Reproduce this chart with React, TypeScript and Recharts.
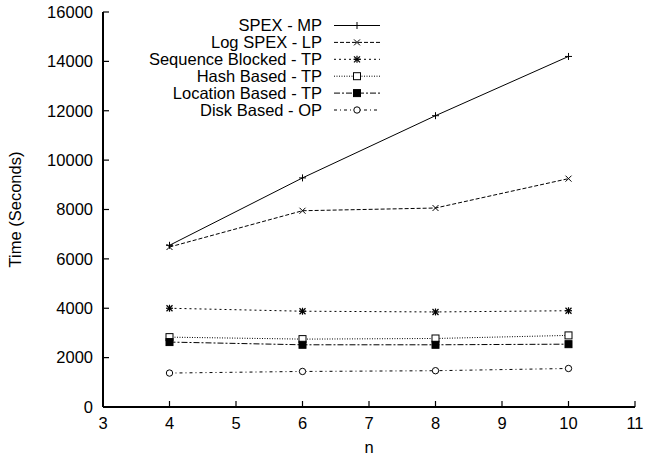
import React from "react";
import { LineChart, Line, XAxis, YAxis } from "recharts";

// values
const nValues = [4, 6, 8, 10];
const spexMp = [6550, 9280, 11800, 14200];
const logSpexLp = [6480, 7950, 8060, 9250];
const seqBlockedTp = [4000, 3880, 3850, 3900];
const hashTp = [2830, 2750, 2775, 2900];
const locationTp = [2630, 2520, 2520, 2545];
const diskOp = [1375, 1440, 1470, 1560];

const xTicks = [3, 4, 5, 6, 7, 8, 9, 10, 11];
const yTicks = [0, 2000, 4000, 6000, 8000, 10000, 12000, 14000, 16000];

const seriesList = [
  { key: "spexMp", name: "SPEX - MP", dash: undefined, marker: "plus" },
  { key: "logSpexLp", name: "Log SPEX - LP", dash: "4 2", marker: "cross" },
  { key: "seqBlockedTp", name: "Sequence Blocked - TP", dash: "2 3", marker: "star" },
  { key: "hashTp", name: "Hash Based - TP", dash: "1 1.5", marker: "square" },
  { key: "locationTp", name: "Location Based - TP", dash: "6 2 2 2", marker: "filled" },
  { key: "diskOp", name: "Disk Based - OP", dash: "3 3 1 3", marker: "circle" },
];

const data = nValues.map((n, i) => ({
  n,
  spexMp: spexMp[i],
  logSpexLp: logSpexLp[i],
  seqBlockedTp: seqBlockedTp[i],
  hashTp: hashTp[i],
  locationTp: locationTp[i],
  diskOp: diskOp[i],
}));

const FONT = "'Liberation Sans', Arial, Helvetica, sans-serif";
const tickFont = { fontSize: 16.5, fill: "#000", fontFamily: FONT };
const axisStyle = { stroke: "#000", strokeWidth: 2 };
const tickLineStyle = { stroke: "#000", strokeWidth: 1.2 };

const Marker = ({ shape, cx, cy }: any) => {
  const s = 3.5;
  if (shape === "plus")
    return (
      <g stroke="#000" strokeWidth={1}>
        <line x1={cx - s} y1={cy} x2={cx + s} y2={cy} />
        <line x1={cx} y1={cy - s} x2={cx} y2={cy + s} />
      </g>
    );
  if (shape === "cross")
    return (
      <g stroke="#000" strokeWidth={1}>
        <line x1={cx - 3} y1={cy - 3} x2={cx + 3} y2={cy + 3} />
        <line x1={cx - 3} y1={cy + 3} x2={cx + 3} y2={cy - 3} />
      </g>
    );
  if (shape === "star")
    return (
      <g stroke="#000" strokeWidth={1.2}>
        <line x1={cx - s} y1={cy} x2={cx + s} y2={cy} />
        <line x1={cx} y1={cy - s} x2={cx} y2={cy + s} />
        <line x1={cx - 3} y1={cy - 3} x2={cx + 3} y2={cy + 3} />
        <line x1={cx - 3} y1={cy + 3} x2={cx + 3} y2={cy - 3} />
      </g>
    );
  if (shape === "square")
    return <rect x={cx - 3.5} y={cy - 3.5} width={7} height={7} fill="#fff" stroke="#000" strokeWidth={1} />;
  if (shape === "filled")
    return <rect x={cx - 3.5} y={cy - 3.5} width={7} height={7} fill="#000" stroke="#000" strokeWidth={1} />;
  return <circle cx={cx} cy={cy} r={3.2} fill="#fff" stroke="#000" strokeWidth={1} />;
};

const LegendBox = () => (
  <svg width={645} height={130} style={{ position: "absolute", left: 0, top: 0, pointerEvents: "none" }}>
    {seriesList.map((s, i) => {
      const y = 25.5 + i * 16.9;
      return (
        <g key={s.key}>
          <text x={322} y={y} dy="0.36em" textAnchor="end" fontSize={16.5} fill="#000" fontFamily={FONT}>
            {s.name}
          </text>
          <line x1={334} y1={y} x2={380} y2={y} stroke="#000" strokeWidth={1} strokeDasharray={s.dash} />
          <Marker shape={s.marker} cx={357} cy={y} />
        </g>
      );
    })}
  </svg>
);

const App = () => {
  return (
    <div style={{ position: "absolute", left: 0, top: 0, width: 645, height: 459, background: "#fff" }}>
      <LineChart
        width={645}
        height={459}
        data={data}
        margin={{ top: 12, right: 10, bottom: 0, left: 43 }}
        style={{ fontFamily: FONT }}
      >
        <XAxis
          dataKey="n"
          type="number"
          domain={[3, 11]}
          ticks={xTicks}
          height={52}
          tickSize={-6}
          tickMargin={16}
          tick={tickFont}
          tickLine={tickLineStyle}
          axisLine={axisStyle}
          label={{ value: "n", position: "insideBottom", offset: 6, fontSize: 16.5, fill: "#000" }}
        />
        {/* mirrored inward ticks on top and right, gnuplot style */}
        <XAxis
          xAxisId="top"
          dataKey="n"
          orientation="top"
          type="number"
          domain={[3, 11]}
          ticks={xTicks}
          height={0}
          tickSize={-6}
          tick={false}
          tickLine={tickLineStyle}
          axisLine={axisStyle}
        />
        <YAxis
          type="number"
          domain={[0, 16000]}
          ticks={yTicks}
          width={60}
          tickSize={-6}
          tickMargin={16}
          tick={tickFont}
          tickLine={tickLineStyle}
          axisLine={axisStyle}
          label={(props: any) => {
            const vb = props.viewBox || { y: 12, height: 395 };
            const cy = vb.y + vb.height / 2;
            return (
              <text
                x={15}
                y={cy}
                transform={`rotate(-90 15 ${cy})`}
                textAnchor="middle"
                dy="0.36em"
                fontSize={16.5}
                fill="#000"
                fontFamily={FONT}
              >
                Time (Seconds)
              </text>
            );
          }}
        />
        <YAxis
          yAxisId="right"
          orientation="right"
          type="number"
          domain={[0, 16000]}
          ticks={yTicks}
          width={0}
          tickSize={-6}
          tick={false}
          tickLine={tickLineStyle}
          axisLine={axisStyle}
        />
        <Line
          xAxisId="top"
          yAxisId="right"
          dataKey="spexMp"
          stroke="none"
          dot={false}
          activeDot={false}
          legendType="none"
          isAnimationActive={false}
        />
        {seriesList.map((s) => (
          <Line
            key={s.key}
            dataKey={s.key}
            name={s.name}
            type="linear"
            stroke="#000"
            strokeWidth={1}
            strokeDasharray={s.dash}
            isAnimationActive={false}
            dot={(p: any) => <Marker key={`${s.key}-${p.index}`} shape={s.marker} cx={p.cx} cy={p.cy} />}
            activeDot={false}
          />
        ))}
      </LineChart>
      <LegendBox />
    </div>
  );
};

export default App;
